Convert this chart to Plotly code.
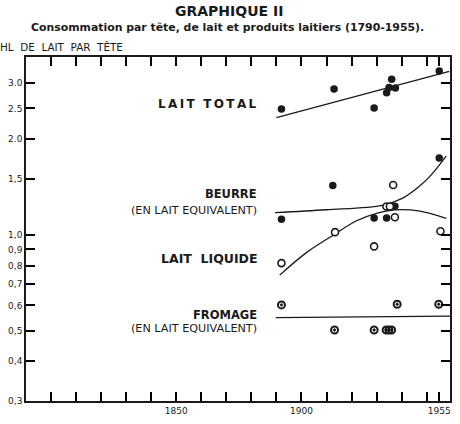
import plotly.graph_objects as go

# ---- data ----
total_years = [1892, 1913, 1929, 1934, 1935, 1936, 1937.5, 1955]
total_vals = [2.49, 2.88, 2.51, 2.80, 2.91, 3.09, 2.90, 3.28]
total_trend_years = [1890, 1959]
total_trend_vals = [2.34, 3.27]

beurre_years = [1892, 1912.5, 1929, 1934, 1937.3, 1955]
beurre_vals = [1.12, 1.43, 1.13, 1.13, 1.23, 1.745]
beurre_curve_years = [1889.4, 1910, 1932.3, 1940, 1946, 1951, 1957.8]
beurre_curve_vals = [1.176, 1.20, 1.239, 1.30, 1.40, 1.52, 1.77]

liquide_years = [1892, 1913.4, 1929, 1933.9, 1935.3, 1937.3, 1936.6, 1955.5]
liquide_vals = [0.815, 1.02, 0.92, 1.228, 1.228, 1.137, 1.435, 1.027]
liquide_curve_years = [1891.3, 1902.1, 1913.3, 1921.8, 1931, 1937.5, 1946.7, 1957.8]
liquide_curve_vals = [0.747, 0.881, 1.005, 1.106, 1.176, 1.199, 1.19, 1.128]

fromage_years = [1892, 1913.2, 1929, 1933.8, 1934.9, 1936, 1938.2, 1954.8]
fromage_vals = [0.602, 0.502, 0.502, 0.502, 0.502, 0.502, 0.605, 0.605]
fromage_line_years = [1889.7, 1959.3]
fromage_line_vals = [0.549, 0.555]

x_tickvals = list(range(1800, 1951, 10)) + [1955]
x_ticktext = ["1850" if v == 1850 else "1900" if v == 1900 else "1955" if v == 1955 else "" for v in x_tickvals]
y_tickvals = [0.3, 0.4, 0.5, 0.6, 0.7, 0.8, 0.9, 1.0, 1.5, 2.0, 2.5, 3.0]
y_ticktext = ["0,3", "0,4", "0,5", "0,6", "0,7", "0,8", "0,9", "1,0", "1,5", "2.0", "2.5", "3.0"]

X_RANGE = [1790, 1959.3]
Y_RANGE_LOG = [-0.5229, 0.5600]

INK = "#1a1a1a"
FONT = "DejaVu Sans"
TS = "\u2009"

fig = go.Figure()

line_style = dict(color=INK, width=1.3)
fig.add_trace(go.Scatter(x=total_trend_years, y=total_trend_vals, mode="lines", line=line_style))
fig.add_trace(go.Scatter(x=beurre_curve_years, y=beurre_curve_vals, mode="lines",
                         line=dict(color=INK, width=1.3, shape="spline", smoothing=1.0)))
fig.add_trace(go.Scatter(x=liquide_curve_years, y=liquide_curve_vals, mode="lines",
                         line=dict(color=INK, width=1.3, shape="spline", smoothing=1.0)))
fig.add_trace(go.Scatter(x=fromage_line_years, y=fromage_line_vals, mode="lines", line=line_style))

fig.add_trace(go.Scatter(x=total_years, y=total_vals, mode="markers",
                         marker=dict(symbol="circle", size=7.5, color=INK)))
fig.add_trace(go.Scatter(x=beurre_years, y=beurre_vals, mode="markers",
                         marker=dict(symbol="circle", size=7.5, color=INK)))
fig.add_trace(go.Scatter(x=liquide_years, y=liquide_vals, mode="markers",
                         marker=dict(symbol="circle", size=7, color="white",
                                     line=dict(color=INK, width=1.6))))
fig.add_trace(go.Scatter(x=fromage_years, y=fromage_vals, mode="markers",
                         marker=dict(symbol="circle-open-dot", size=7, color=INK,
                                     line=dict(color=INK, width=2))))

axis_common = dict(showline=True, linecolor=INK, linewidth=1.5, mirror="ticks",
                   ticks="inside", ticklen=9, tickwidth=2, tickcolor="black",
                   showgrid=False, zeroline=False,
                   tickfont=dict(family=FONT, size=9, color=INK))

fig.update_xaxes(range=X_RANGE, tickmode="array", tickvals=x_tickvals,
                 ticktext=x_ticktext, **axis_common)
fig.update_yaxes(type="log", range=Y_RANGE_LOG, tickmode="array",
                 tickvals=y_tickvals, ticktext=y_ticktext, **axis_common)

def lab(text, y, size, bold=True, x=0.549):
    fig.add_annotation(xref="paper", yref="paper", x=x, y=y, xanchor="right", yanchor="middle",
                       showarrow=False, text=("<b>%s</b>" % text) if bold else text,
                       font=dict(family=FONT, size=size, color=INK))

lab(TS.join("LAIT") + "  " + TS.join("TOTAL"), 0.862, 12)
lab("BEURRE", 0.601, 11.5)
lab("(EN LAIT EQUIVALENT)", 0.555, 11.2, bold=False)
lab("LAIT  LIQUIDE", 0.415, 12.5)
lab("FROMAGE", 0.25, 11.5)
lab("(EN LAIT EQUIVALENT)", 0.21, 11.2, bold=False)

fig.add_annotation(xref="paper", yref="paper", x=0.479, y=1.134, xanchor="center", yanchor="middle",
                   showarrow=False, text="<b>GRAPHIQUE II</b>",
                   font=dict(family=FONT, size=14, color=INK))
fig.add_annotation(xref="paper", yref="paper", x=0.475, y=1.085, xanchor="center", yanchor="middle",
                   showarrow=False,
                   text="<b>Consommation par tête, de lait et produits laitiers (1790-1955).</b>",
                   font=dict(family=FONT, size=10.9, color=INK))
fig.add_annotation(xref="paper", yref="paper", x=-0.0656, y=1.030, xanchor="left", yanchor="middle",
                   showarrow=False, text="HL  DE  LAIT  PAR  TÊTE",
                   font=dict(family=FONT, size=10.4, color=INK))

fig.update_layout(width=460, height=424, showlegend=False,
                  margin=dict(l=22, r=8, t=57, b=22),
                  paper_bgcolor="white", plot_bgcolor="white")

fig.write_html("out.html")
